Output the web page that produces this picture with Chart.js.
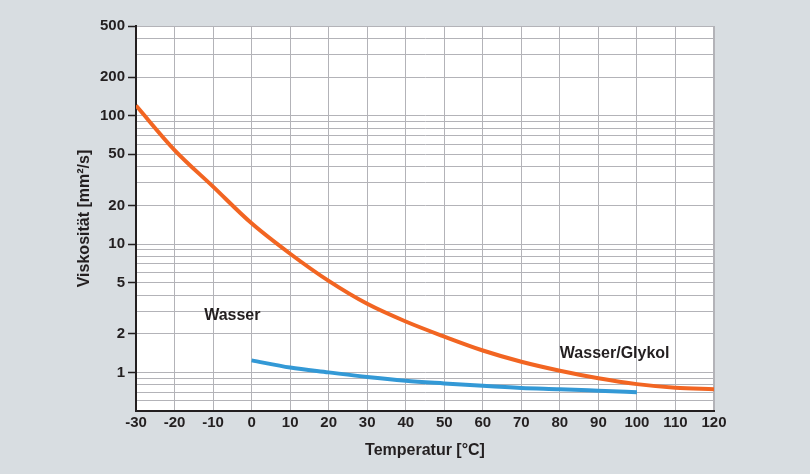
<!DOCTYPE html>
<html>
<head>
<meta charset="utf-8">
<script src="https://cdn.jsdelivr.net/npm/chart.js@4"></script>
<style>
  html, body { margin: 0; padding: 0; background: #d8dde1; }
  #wrap { width: 810px; height: 474px; }
</style>
</head>
<body>
<div id="wrap"><canvas id="viscChart" width="810" height="474"></canvas></div>
<script>
// Temperaturen [°C]
const tempWasser = [0, 10, 20, 30, 40, 50, 60, 70, 80, 90, 100];
const tempGlykol = [-30, -20, -10, 0, 10, 20, 30, 40, 50, 60, 70, 80, 90, 100, 110, 120];
// Viskosität [mm²/s]
const viskWasser = [1.24, 1.09, 1.0, 0.92, 0.86, 0.82, 0.785, 0.757, 0.74, 0.72, 0.70];
const viskGlykol = [120, 54, 28, 14.5, 8.4, 5.16, 3.42, 2.49, 1.9, 1.48, 1.21, 1.03, 0.9, 0.81, 0.76, 0.74];
// Achsen
const xTicks = [-30, -20, -10, 0, 10, 20, 30, 40, 50, 60, 70, 80, 90, 100, 110, 120];
const yLabels = [1, 2, 5, 10, 20, 50, 100, 200, 500];
const yGrid = [0.5, 0.6, 0.7, 0.8, 0.9, 1, 2, 3, 4, 5, 6, 7, 8, 9, 10, 20, 30, 40, 50, 60, 70, 80, 90, 100, 200, 300, 400, 500];
// Beschriftungen im Diagramm
const curveLabels = ['Wasser', 'Wasser/Glykol'];
const curveLabelPos = [[-5, 2.75], [80, 1.41]];

const textColor = '#231f20';
const gridColor = '#b3b3b8';
const fontFam = '"Liberation Sans", Arial, sans-serif';

const bgPlugin = {
    id: 'bg',
    beforeDraw(chart) {
        const { ctx, chartArea: a } = chart;
        ctx.save();
        ctx.fillStyle = '#d8dde1';
        ctx.fillRect(0, 0, chart.width, chart.height);
        ctx.fillStyle = '#ffffff';
        ctx.fillRect(a.left, a.top, a.right - a.left, a.bottom - a.top);
        ctx.strokeStyle = gridColor;
        ctx.lineWidth = 1;
        ctx.strokeRect(a.left, a.top + 0.5, a.right - a.left - 0.5, a.bottom - a.top);
        ctx.restore();
    }
};

const labelPlugin = {
    id: 'curveLabels',
    afterDatasetsDraw(chart) {
        const { ctx, scales } = chart;
        ctx.save();
        ctx.fillStyle = textColor;
        ctx.font = 'bold 16px ' + fontFam;
        ctx.textBaseline = 'middle';
        curveLabels.forEach((t, i) => {
            const [xv, yv] = curveLabelPos[i];
            ctx.textAlign = i === 0 ? 'center' : 'left';
            ctx.fillText(t, scales.x.getPixelForValue(xv), scales.y.getPixelForValue(yv));
        });
        ctx.restore();
    }
};

const ctx = document.getElementById('viscChart').getContext('2d');
const viscChart = new Chart(ctx, {
    type: 'line',
    data: {
        datasets: [
            {
                label: 'Wasser',
                data: tempWasser.map((t, i) => ({ x: t, y: viskWasser[i] })),
                borderColor: '#3399d6',
                borderWidth: 4,
                pointRadius: 0,
                cubicInterpolationMode: 'monotone'
            },
            {
                label: 'Wasser/Glykol',
                data: tempGlykol.map((t, i) => ({ x: t, y: viskGlykol[i] })),
                borderColor: '#f26522',
                borderWidth: 4,
                pointRadius: 0,
                cubicInterpolationMode: 'monotone'
            }
        ]
    },
    options: {
        responsive: false,
        animation: false,
        layout: { padding: { top: 26, right: 96, left: 71, bottom: 14 } },
        plugins: {
            legend: { display: false },
            tooltip: { enabled: false }
        },
        scales: {
            x: {
                type: 'linear',
                min: -30,
                max: 120,
                afterBuildTicks: s => { s.ticks = xTicks.map(v => ({ value: v })); },
                afterFit: s => { s.height = 49; },
                ticks: {
                    color: textColor,
                    font: { family: fontFam, size: 15, weight: 'bold' },
                    padding: 3,
                    maxRotation: 0
                },
                grid: { color: gridColor, drawTicks: false },
                border: { color: textColor, width: 2 },
                title: {
                    display: true,
                    text: 'Temperatur [°C]',
                    color: textColor,
                    font: { family: fontFam, size: 16, weight: 'bold' },
                    padding: { top: 10, bottom: 0 }
                }
            },
            y: {
                type: 'logarithmic',
                min: 0.5,
                max: 500,
                afterBuildTicks: s => { s.ticks = yGrid.map(v => ({ value: v })); },
                afterFit: s => { s.width = 65; },
                ticks: {
                    color: textColor,
                    font: { family: fontFam, size: 15, weight: 'bold' },
                    padding: 3,
                    autoSkip: false,
                    callback: v => yLabels.includes(v) ? String(v) : ''
                },
                grid: {
                    color: gridColor,
                    tickLength: 8,
                    tickWidth: 1.5,
                    tickColor: c => (c.tick && yLabels.includes(c.tick.value)) ? textColor : 'rgba(0,0,0,0)'
                },
                border: { color: textColor, width: 2 },
                title: {
                    display: true,
                    text: 'Viskosität [mm²/s]',
                    color: textColor,
                    font: { family: fontFam, size: 16, weight: 'bold' },
                    padding: { top: 4, bottom: 4 }
                }
            }
        }
    },
    plugins: [bgPlugin, labelPlugin]
});
</script>
</body>
</html>
